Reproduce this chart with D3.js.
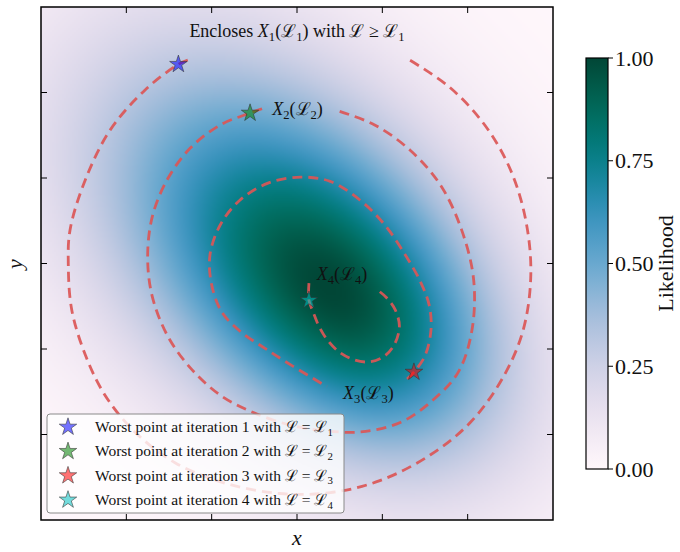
<!DOCTYPE html>
<html>
<head>
<meta charset="utf-8">
<script src="https://cdn.jsdelivr.net/npm/d3@7"></script>
<style>
  body { margin: 0; background: #fff; }
  svg text { font-family: "Liberation Serif", "DejaVu Serif", serif; fill: #111; }
</style>
</head>
<body>
<div id="chart"></div>
<script>
// ---- axes extent and ticks (data units) ----
const xDomain = [-3, 3];
const yDomain = [-3, 3];
const xTicks = [-2, -1, 0, 1, 2];
const yTicks = [-2, -1, 0, 1, 2];
const cbTicks = [0, 0.25, 0.5, 0.75, 1];

// ---- likelihood surface: two tilted gaussian bumps (broad + core) ----
const bumpCenterX = [-0.20, 0.80];
const bumpCenterY = [0.28, -0.69];
const bumpSigmaMajor = [1.93, 1.29];
const bumpSigmaMinor = [1.29, 0.88];
const bumpWeight = [0.75, 0.45];
const bumpTiltDeg = -45;

// ---- iso-likelihood curves, outermost first (data units) ----
const contour1 = [[-1.28,2.38],[-1.39,2.33],[-1.78,2.03],[-2.19,1.56],[-2.48,0.98],[-2.66,0.39],
  [-2.68,-0.02],[-2.64,-0.54],[-2.48,-1.07],[-2.25,-1.54],[-1.90,-1.97],[-1.43,-2.33],
  [-0.84,-2.57],[-0.20,-2.69],[0.39,-2.68],[0.97,-2.54],[1.56,-2.24],[2.03,-1.86],
  [2.41,-1.34],[2.65,-0.78],[2.74,-0.13],[2.68,0.51],[2.50,1.10],[2.20,1.62],[1.79,2.06],[1.32,2.38]];
const contour2 = [[0.50,1.78],[0.91,1.62],[1.32,1.33],[1.68,0.92],[1.93,0.39],[2.07,-0.19],
  [2.05,-0.78],[1.89,-1.27],[1.59,-1.60],[1.21,-1.86],[0.74,-1.97],[0.27,-1.95],[-0.08,-1.89],
  [-0.52,-1.74],[-0.90,-1.54],[-1.25,-1.22],[-1.52,-0.84],[-1.70,-0.37],[-1.75,0.10],
  [-1.69,0.57],[-1.51,1.00],[-1.25,1.35],[-0.90,1.62],[-0.55,1.76],[-0.41,1.81]];
const contour3 = [[1.29,-1.35],[1.37,-1.27],[1.50,-1.08],[1.57,-0.78],[1.55,-0.49],[1.45,-0.22],
  [1.27,0.10],[1.03,0.45],[0.74,0.74],[0.39,0.96],[0.04,1.01],[-0.34,0.94],[-0.67,0.74],
  [-0.90,0.45],[-1.02,0.10],[-1.00,-0.25],[-0.88,-0.57],[-0.67,-0.79],[-0.38,-0.99],
  [-0.05,-1.20],[0.35,-1.44]];
const contour4 = [[0.14,-0.23],[0.14,-0.43],[0.19,-0.57],[0.26,-0.74],[0.36,-0.90],[0.50,-1.04],
  [0.68,-1.13],[0.86,-1.15],[1.03,-1.08],[1.15,-0.93],[1.20,-0.73],[1.15,-0.54],[1.05,-0.40],[0.97,-0.33]];

// ---- worst points per iteration ----
const iterations = [1, 2, 3, 4];
const worstX = [-1.39, -0.55, 1.37, 0.14];
const worstY = [2.33, 1.76, -1.27, -0.43];
const worstColors = ["#0000ff", "#008000", "#ff0000", "#00bfbf"];

// ---- curve annotations ----
const labelIdx = [2, 3, 4];
const labelX = [-0.29, 0.54, 0.23];
const labelY = [1.74, -1.58, -0.19];
const titlePos = [0.0, 2.65];

const W = 680, H = 552;
const svg = d3.select("#chart").append("svg").attr("width", W).attr("height", H);

const x = d3.scaleLinear().domain(xDomain).range([41, 553]);
const y = d3.scaleLinear().domain(yDomain).range([520, 7]);
const color = d3.scaleSequential(d3.interpolatePuBuGn).domain([0, 1]);

// likelihood evaluated on a grid, scaled so its maximum is 1
const th = bumpTiltDeg * Math.PI / 180;
function rawLikelihood(px, py) {
  let s = 0;
  for (let b = 0; b < bumpWeight.length; b++) {
    const dx = px - bumpCenterX[b], dy = py - bumpCenterY[b];
    const u = dx * Math.cos(th) + dy * Math.sin(th);
    const v = -dx * Math.sin(th) + dy * Math.cos(th);
    s += bumpWeight[b] * Math.exp(-0.5 * (u * u / bumpSigmaMajor[b] ** 2 + v * v / bumpSigmaMinor[b] ** 2));
  }
  return s;
}

const N = 256;
const gi = d3.scaleLinear().domain([0, N]).range(xDomain);
const gj = d3.scaleLinear().domain([0, N]).range([yDomain[1], yDomain[0]]);
const grid = [];
for (let j = 0; j < N; j++)
  for (let i = 0; i < N; i++) grid.push(rawLikelihood(gi(i + 0.5), gj(j + 0.5)));
const gmax = d3.max(grid);

const canvas = document.createElement("canvas");
canvas.width = N; canvas.height = N;
const ctx = canvas.getContext("2d");
const img = ctx.createImageData(N, N);
grid.forEach((val, k) => {
  const c = d3.rgb(color(val / gmax));
  img.data[4 * k] = c.r; img.data[4 * k + 1] = c.g; img.data[4 * k + 2] = c.b; img.data[4 * k + 3] = 255;
});
ctx.putImageData(img, 0, 0);

svg.append("image")
  .attr("href", canvas.toDataURL())
  .attr("x", x(xDomain[0])).attr("y", y(yDomain[1]))
  .attr("width", x(xDomain[1]) - x(xDomain[0]))
  .attr("height", y(yDomain[0]) - y(yDomain[1]))
  .attr("preserveAspectRatio", "none");

// dashed iso-likelihood curves
const line = d3.line().x(d => x(d[0])).y(d => y(d[1])).curve(d3.curveCatmullRom.alpha(0.5));
svg.append("g").selectAll("path")
  .data([contour1, contour2, contour3, contour4])
  .join("path")
  .attr("d", line)
  .attr("fill", "none")
  .attr("stroke", "#db5656")
  .attr("stroke-opacity", 0.92)
  .attr("stroke-width", 2.8)
  .attr("stroke-dasharray", "10,6");

// math-style text helper: parts are [text, style] with style in {"", "i", "sub"}
function mathText(sel, parts, size) {
  let down = false;
  parts.forEach(([t, s]) => {
    const ts = sel.append("tspan").text(t);
    if (s === "i") ts.attr("font-style", "italic");
    if (s === "sub") {
      ts.attr("font-size", size * 0.7).attr("dy", size * 0.25);
      down = true;
    } else if (down) {
      ts.attr("dy", -size * 0.25);
      down = false;
    }
  });
}
const L = "\u2112";

// title annotation
const tSize = 18;
mathText(svg.append("text").attr("x", x(titlePos[0])).attr("y", y(titlePos[1]))
  .attr("text-anchor", "middle").attr("font-size", tSize),
  [["Encloses ", ""], ["X", "i"], ["1", "sub"], ["(" + L, ""], ["1", "sub"], [") with " + L + " \u2265 " + L, ""], ["1", "sub"]], tSize);

// curve labels
labelIdx.forEach((n, k) => {
  mathText(svg.append("text").attr("x", x(labelX[k])).attr("y", y(labelY[k])).attr("font-size", tSize),
    [["X", "i"], [String(n), "sub"], ["(" + L, ""], [String(n), "sub"], [")", ""]], tSize);
});

// worst points
const star = d3.symbol().type(d3.symbolStar).size(95);
svg.append("g").selectAll("path")
  .data(iterations)
  .join("path")
  .attr("d", star)
  .attr("transform", (d, i) => `translate(${x(worstX[i])},${y(worstY[i])})`)
  .attr("fill", (d, i) => worstColors[i])
  .attr("fill-opacity", 0.55)
  .attr("stroke", "#333")
  .attr("stroke-opacity", 0.7)
  .attr("stroke-width", 0.8);

// legend
const lg = svg.append("g").attr("transform", "translate(47,414)");
lg.append("rect").attr("width", 297).attr("height", 99).attr("rx", 3)
  .attr("fill", "#fff").attr("fill-opacity", 0.8).attr("stroke", "#8a8a8a").attr("stroke-width", 1);
const lSize = 15.5;
iterations.forEach((n, i) => {
  const yy = 13 + i * 24.3;
  lg.append("path").attr("d", star).attr("transform", `translate(21,${yy})`)
    .attr("fill", worstColors[i]).attr("fill-opacity", 0.55)
    .attr("stroke", "#333").attr("stroke-opacity", 0.7).attr("stroke-width", 0.8);
  mathText(lg.append("text").attr("x", 48).attr("y", yy + 5).attr("font-size", lSize),
    [[`Worst point at iteration ${n} with ${L} = ${L}`, ""], [String(n), "sub"]], lSize);
});

// ticks on all four sides, pointing inward
const tl = 6;
const tg = svg.append("g").attr("stroke", "#000").attr("stroke-width", 1);
xTicks.forEach(t => {
  tg.append("line").attr("x1", x(t)).attr("x2", x(t)).attr("y1", y(yDomain[0])).attr("y2", y(yDomain[0]) - tl);
  tg.append("line").attr("x1", x(t)).attr("x2", x(t)).attr("y1", y(yDomain[1])).attr("y2", y(yDomain[1]) + tl);
});
yTicks.forEach(t => {
  tg.append("line").attr("y1", y(t)).attr("y2", y(t)).attr("x1", x(xDomain[0])).attr("x2", x(xDomain[0]) + tl);
  tg.append("line").attr("y1", y(t)).attr("y2", y(t)).attr("x1", x(xDomain[1])).attr("x2", x(xDomain[1]) - tl);
});

// frame
svg.append("rect")
  .attr("x", x(xDomain[0])).attr("y", y(yDomain[1]))
  .attr("width", x(xDomain[1]) - x(xDomain[0])).attr("height", y(yDomain[0]) - y(yDomain[1]))
  .attr("fill", "none").attr("stroke", "#000").attr("stroke-width", 1.5);

// axis titles
svg.append("text").attr("x", 297).attr("y", 545).attr("text-anchor", "middle")
  .attr("font-size", 22).attr("font-style", "italic").text("x");
svg.append("text").attr("transform", "translate(22,264) rotate(-90)").attr("text-anchor", "middle")
  .attr("font-size", 22).attr("font-style", "italic").text("y");

// colorbar
const cb = { x: 586, w: 22 };
const cy = d3.scaleLinear().domain([0, 1]).range([469, 58]);
const defs = svg.append("defs");
const grad = defs.append("linearGradient").attr("id", "cbgrad")
  .attr("x1", 0).attr("y1", 1).attr("x2", 0).attr("y2", 0);
d3.range(0, 1.0001, 0.05).forEach(t => {
  grad.append("stop").attr("offset", t).attr("stop-color", color(t));
});
svg.append("rect").attr("x", cb.x).attr("y", cy(1)).attr("width", cb.w).attr("height", cy(0) - cy(1))
  .attr("fill", "url(#cbgrad)").attr("stroke", "#000").attr("stroke-width", 1.2);
const cbt = svg.append("g").selectAll("g").data(cbTicks).join("g")
  .attr("transform", d => `translate(${cb.x + cb.w},${cy(d)})`);
cbt.append("line").attr("x1", 0).attr("x2", 5).attr("stroke", "#000");
cbt.append("text").attr("x", 7).attr("dy", "0.35em").attr("font-size", 22)
  .text(d => d3.format(".2f")(d));
svg.append("text").attr("transform", `translate(673,${(cy(0) + cy(1)) / 2}) rotate(-90)`)
  .attr("text-anchor", "middle").attr("font-size", 22).text("Likelihood");
</script>
</body>
</html>
